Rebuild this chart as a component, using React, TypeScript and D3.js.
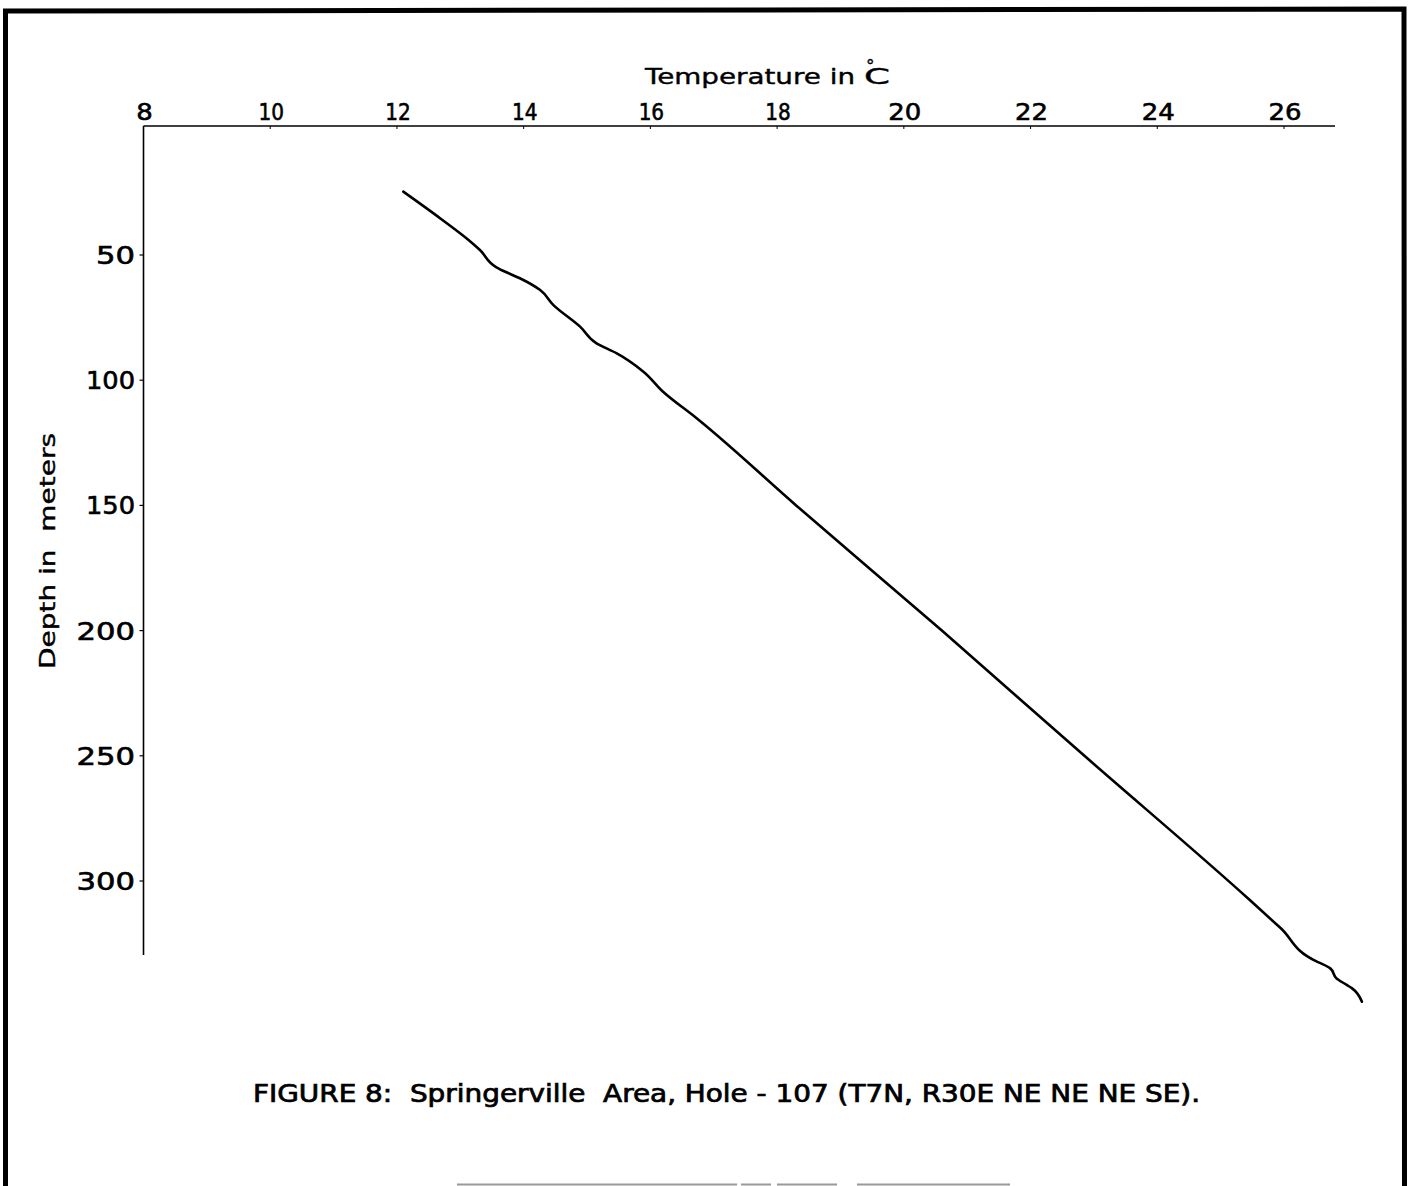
import React, { useEffect, useRef } from "react";
import * as d3 from "d3";

// temperature profile
const temps = [12.1, 12.68, 13.13, 13.31, 13.57, 13.71, 13.94, 14.26, 14.47, 14.89, 15.15, 15.47, 15.89, 16.2, 16.73, 18.3, 20.6, 22.85, 25.46, 25.95, 26.52, 26.6, 26.73, 26.83, 26.99, 27.07, 27.23];
const depths = [24.7, 35.3, 44.0, 48.0, 54.9, 56.7, 59.3, 64.0, 70.0, 78.6, 85.3, 89.3, 96.6, 104.6, 115.2, 150, 200, 250, 307.6, 318.9, 332.2, 333.1, 334.9, 338.9, 341.5, 342.8, 348.2];

const tempTicks = [8, 10, 12, 14, 16, 18, 20, 22, 24, 26];
const depthTicks = [50, 100, 150, 200, 250, 300];

const FONT = "'DejaVu Sans', sans-serif";

// the figure's lettering has a narrow "1" and wide round digits
const labelWidth = (s: string, wide: number, narrow: number) =>
    s.split("").reduce((w, c) => w + (c === "1" ? narrow : wide), 0);

const App = () => {
    const svgRef = useRef<SVGSVGElement>(null);

    useEffect(() => {
        document.body.style.margin = "0";
        const svg = d3.select(svgRef.current);
        svg.selectAll("*").remove();

        const x = d3.scaleLinear().domain([8, 26]).range([143.5, 1284]);
        const y = d3.scaleLinear().domain([50, 300]).range([255, 881]);
        const axisY = 126;
        const axisX = 143.5;

        // frame
        svg.append("path")
            .attr("d", "M5.5,1186 L5.5,11 L1404,9 L1404.5,1186")
            .attr("fill", "none")
            .attr("stroke", "#000")
            .attr("stroke-width", 5);

        // faint leftover line at the bottom
        svg.append("line")
            .attr("x1", 457).attr("x2", 1010)
            .attr("y1", 1184.5).attr("y2", 1184.5)
            .attr("stroke", "#999")
            .attr("stroke-width", 2)
            .attr("stroke-dasharray", "280,4,30,6,60,20,160,6");

        // top axis
        svg.append("line")
            .attr("x1", axisX).attr("x2", 1335)
            .attr("y1", axisY).attr("y2", axisY)
            .attr("stroke", "#000").attr("stroke-width", 1.6);

        svg.selectAll(".xtick")
            .data(tempTicks)
            .join("line")
            .attr("class", "xtick")
            .attr("x1", (d) => x(d)).attr("x2", (d) => x(d))
            .attr("y1", axisY).attr("y2", axisY + 3)
            .attr("stroke", "#000").attr("stroke-width", 1);

        svg.selectAll(".xlabel")
            .data(tempTicks)
            .join("text")
            .attr("class", "xlabel")
            .attr("x", (d) => x(d) + 1)
            .attr("y", 120)
            .attr("text-anchor", "middle")
            .attr("textLength", (d) => labelWidth(String(d), 16.5, 9))
            .attr("lengthAdjust", "spacingAndGlyphs")
            .attr("stroke", "#000")
            .attr("stroke-width", 0.6)
            .style("font-family", FONT)
            .style("font-size", "23px")
            .text((d) => d);

        // title, degree sign sits above the C
        const title = svg.append("text")
            .attr("x", 645)
            .attr("y", 84)
            .attr("stroke", "#000")
            .attr("stroke-width", 0.4)
            .style("font-family", FONT)
            .style("font-size", "22px")
            .style("white-space", "pre");
        title.append("tspan").attr("textLength", 210).attr("lengthAdjust", "spacingAndGlyphs").text("Temperature in");
        title.append("tspan").attr("x", 866).attr("dy", -12).style("font-size", "17px").text("°");
        title.append("tspan").attr("x", 864).attr("dy", 12).attr("textLength", 26).attr("lengthAdjust", "spacingAndGlyphs").text("C");

        // left axis
        svg.append("line")
            .attr("x1", axisX).attr("x2", axisX)
            .attr("y1", axisY).attr("y2", 955)
            .attr("stroke", "#000").attr("stroke-width", 1.6);

        svg.selectAll(".ytick")
            .data(depthTicks)
            .join("line")
            .attr("class", "ytick")
            .attr("x1", axisX - 4).attr("x2", axisX)
            .attr("y1", (d) => y(d)).attr("y2", (d) => y(d))
            .attr("stroke", "#000").attr("stroke-width", 1.2);

        svg.selectAll(".ylabel")
            .data(depthTicks)
            .join("text")
            .attr("class", "ylabel")
            .attr("x", 135)
            .attr("y", (d) => y(d) + 9)
            .attr("text-anchor", "end")
            .attr("textLength", (d) => labelWidth(String(d), 19.5, 10))
            .attr("lengthAdjust", "spacingAndGlyphs")
            .attr("stroke", "#000")
            .attr("stroke-width", 0.6)
            .style("font-family", FONT)
            .style("font-size", "24px")
            .text((d) => d);

        svg.append("text")
            .attr("transform", "translate(55,551) rotate(-90)")
            .attr("text-anchor", "middle")
            .attr("textLength", 236)
            .attr("lengthAdjust", "spacingAndGlyphs")
            .attr("stroke", "#000")
            .attr("stroke-width", 0.4)
            .style("font-family", FONT)
            .style("font-size", "21px")
            .style("white-space", "pre")
            .text("Depth in  meters");

        // profile
        const pts = temps.map((t, i) => [t, depths[i]] as [number, number]);
        const line = d3.line<[number, number]>()
            .x((d) => x(d[0]))
            .y((d) => y(d[1]))
            .curve(d3.curveMonotoneY);

        svg.append("path")
            .datum(pts)
            .attr("d", line)
            .attr("fill", "none")
            .attr("stroke", "#000")
            .attr("stroke-width", 2.6)
            .attr("stroke-linecap", "round");

        // caption
        svg.append("text")
            .attr("x", 253)
            .attr("y", 1102)
            .attr("textLength", 947)
            .attr("lengthAdjust", "spacingAndGlyphs")
            .attr("stroke", "#000")
            .attr("stroke-width", 0.7)
            .style("font-family", "'DejaVu Sans Condensed', 'DejaVu Sans', sans-serif")
            .style("font-size", "25px")
            .style("white-space", "pre")
            .text("FIGURE 8:  Springerville  Area, Hole - 107 (T7N, R30E NE NE NE SE).");
    }, []);

    return (
        <div>
            <svg ref={svgRef} width={1413} height={1186} style={{ display: "block", background: "#fff" }} />
        </div>
    );
};

export default App;
